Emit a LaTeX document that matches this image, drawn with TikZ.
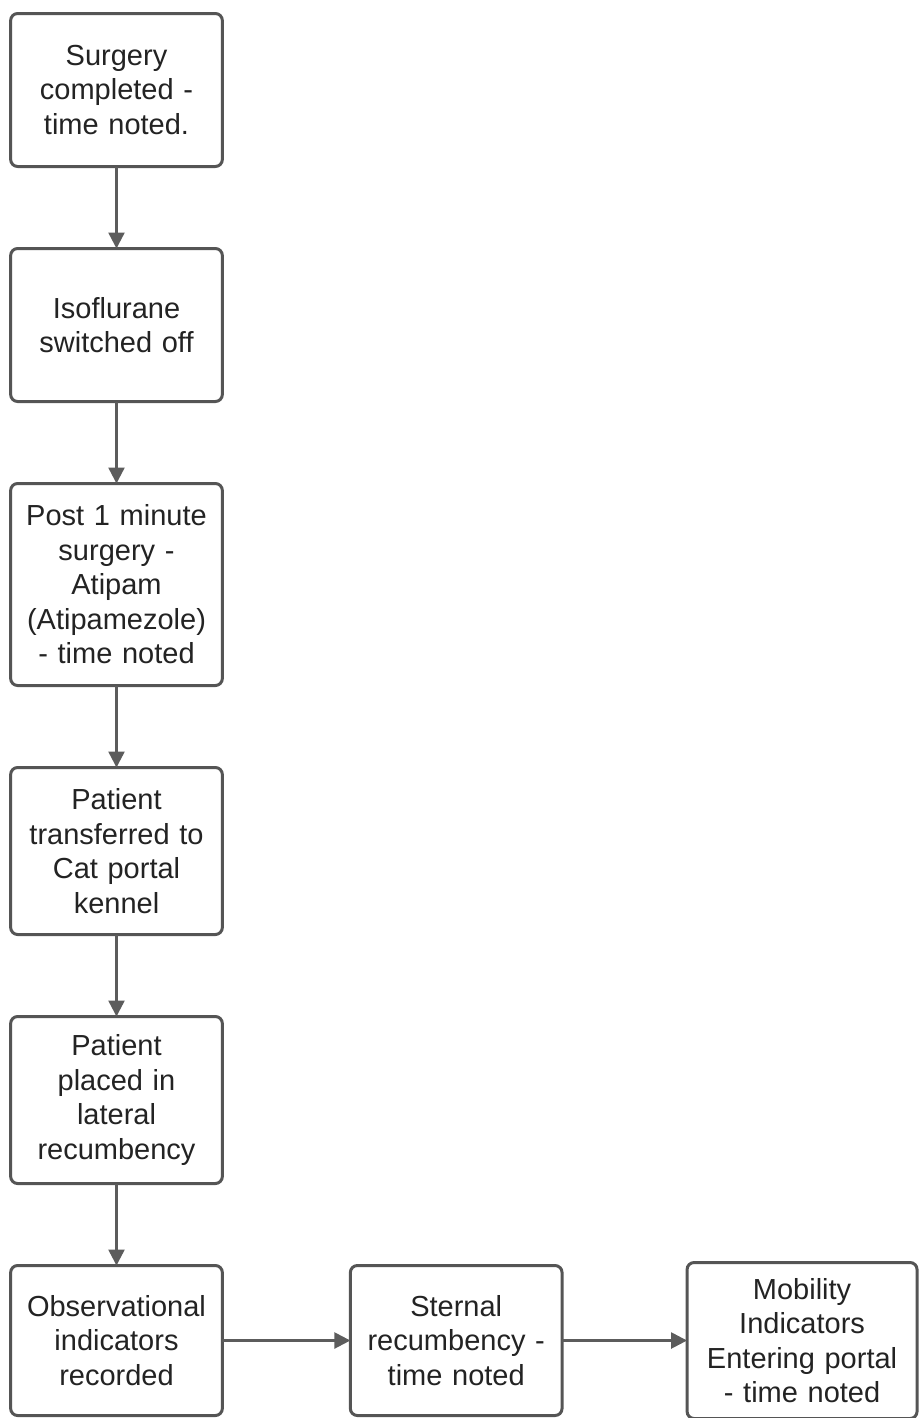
\documentclass[tikz,border=0pt]{standalone}
\usepackage{fontspec}
\setmainfont{Liberation Sans}
\usepackage{tikz}
\usetikzlibrary{arrows.meta,positioning}
\definecolor{boxgray}{RGB}{85,85,85}
\definecolor{arrowgray}{RGB}{92,92,92}
\definecolor{textgray}{RGB}{35,35,35}
\tikzset{stepbox/.style={rectangle, rounded corners=4pt, draw=boxgray, line width=1.7pt, fill=white, align=center, text width=4.0cm, minimum width=4.12cm, outer sep=0pt, text=textgray, font=\fontsize{16.5}{19.6}\selectfont}, arrow/.style={-{Triangle[length=3.2mm, width=3.2mm]}, line width=1.4pt, draw=arrowgray}}

\begin{document}
\begin{tikzpicture}[node distance=1.64cm and 2.56cm]
\useasboundingbox (0,0) rectangle (18.42,-28.36);
\node[stepbox, minimum height=3.06cm] (surgery) at (2.33,-1.8) {Surgery\\completed -\\time noted.};
\node[stepbox, minimum height=3.06cm, below=of surgery] (iso) {Isoflurane\\switched off};
\node[stepbox, minimum height=4.04cm, below=of iso] (atipam) {Post 1 minute\\surgery -\\Atipam\\(Atipamezole)\\- time noted};
\node[stepbox, minimum height=3.34cm, below=of atipam] (transfer) {Patient\\transferred to\\Cat portal\\kennel};
\node[stepbox, minimum height=3.34cm, below=of transfer] (lateral) {Patient\\placed in\\lateral\\recumbency};
\node[stepbox, minimum height=3.0cm, below=of lateral] (observe) {Observational\\indicators\\recorded};
\node[stepbox, minimum height=3.0cm, minimum width=4.14cm, right=of observe] (sternal) {Sternal\\recumbency -\\time noted};
\node[stepbox, minimum height=3.12cm, minimum width=4.6cm, right=2.5cm of sternal] (mobility) {Mobility\\Indicators\\Entering portal\\- time noted};
\draw[arrow] (surgery)--(iso);
\draw[arrow] (iso)--(atipam);
\draw[arrow] (atipam)--(transfer);
\draw[arrow] (transfer)--(lateral);
\draw[arrow] (lateral)--(observe);
\draw[arrow] (observe)--(sternal);
\draw[arrow] (sternal)--(mobility);
\end{tikzpicture}
\end{document}
